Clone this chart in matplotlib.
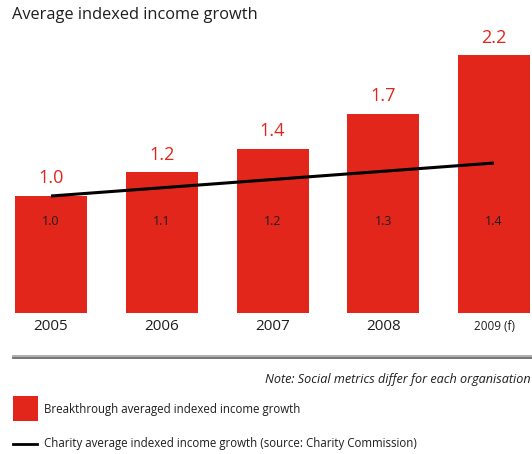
import matplotlib.pyplot as plt
import matplotlib.transforms as mtransforms
from matplotlib.lines import Line2D
from matplotlib.patches import Rectangle

plt.rcParams["font.family"] = ["Open Sans", "DejaVu Sans"]

years = ["2005", "2006", "2007", "2008", "2009 (f)"]
breakthrough = [1.0, 1.2, 1.4, 1.7, 2.2]
charity = [1.0, 1.1, 1.2, 1.3, 1.4]

RED = "#E2261C"
INK = "#1e1e1e"
W, H = 532, 454


def fx(px):
    return px / W


def fy(py):
    return 1 - py / H


fig = plt.figure(figsize=(W / 100, H / 100), dpi=100)

# main plot area: bottom edge is the bar baseline
base_px = 312.5
ax = fig.add_axes([0, fy(base_px), 1, base_px / H])
x = list(range(len(years)))
ax.bar(x, breakthrough, width=0.65, color=RED, edgecolor="none", zorder=1)
ax.set_xlim(-0.4605, 4.343)
ax.set_ylim(0, base_px / 117)
ax.axis("off")

# charity line sits on its own (hidden) scale
ax2 = ax.twinx()
ax2.plot(x, charity, color="black", lw=2.2, solid_capstyle="butt", zorder=3)
ax2.set_ylim(-0.412, 3.376)
ax2.axis("off")

trans = mtransforms.blended_transform_factory(ax.transData, ax.transAxes)
for i, (yr, b, c) in enumerate(zip(years, breakthrough, charity)):
    ax.annotate(f"{b:.1f}", (i, b), xytext=(0, 6), textcoords="offset points",
                ha="center", va="bottom", color=RED, fontsize=13)
    ax.text(i, (base_px - 222) / base_px, f"{c:.1f}", transform=trans,
            ha="center", va="center", fontsize=9, color=INK, zorder=4)
    small = "(" in yr
    ax.text(i, -(327 - base_px) / base_px, yr, transform=trans, ha="center",
            va="center", fontsize=8.5 if small else 11, color=INK,
            clip_on=False)

fig.text(fx(12), fy(15), "Average indexed income growth", fontsize=11.8,
         ha="left", va="center", color=INK)

# double rule under the chart
fig.add_artist(Line2D([fx(13), 1], [fy(356.3), fy(356.3)], color="#a8a8a8", lw=1.3))
fig.add_artist(Line2D([fx(13), 1], [fy(358.3), fy(358.3)], color="#6a6a6a", lw=1.3))

fig.text(fx(531), fy(379), "Note: Social metrics differ for each organisation",
         style="italic", fontsize=9.05, ha="right", va="center", color=INK)

# legend
fig.add_artist(Rectangle((fx(12.7), fy(420.7)), 25 / W, 25 / H,
                         transform=fig.transFigure, color=RED, lw=0))
fig.text(fx(44.5), fy(410), "Breakthrough averaged indexed income growth",
         fontsize=8.3, ha="left", va="center", color=INK)
fig.add_artist(Line2D([fx(12.7), fx(36.7)], [fy(444), fy(444)], color="black", lw=2))
fig.text(fx(44.5), fy(443), "Charity average indexed income growth (source: Charity Commission)",
         fontsize=8.3, ha="left", va="center", color=INK)

fig.savefig("out.png", dpi=100)
